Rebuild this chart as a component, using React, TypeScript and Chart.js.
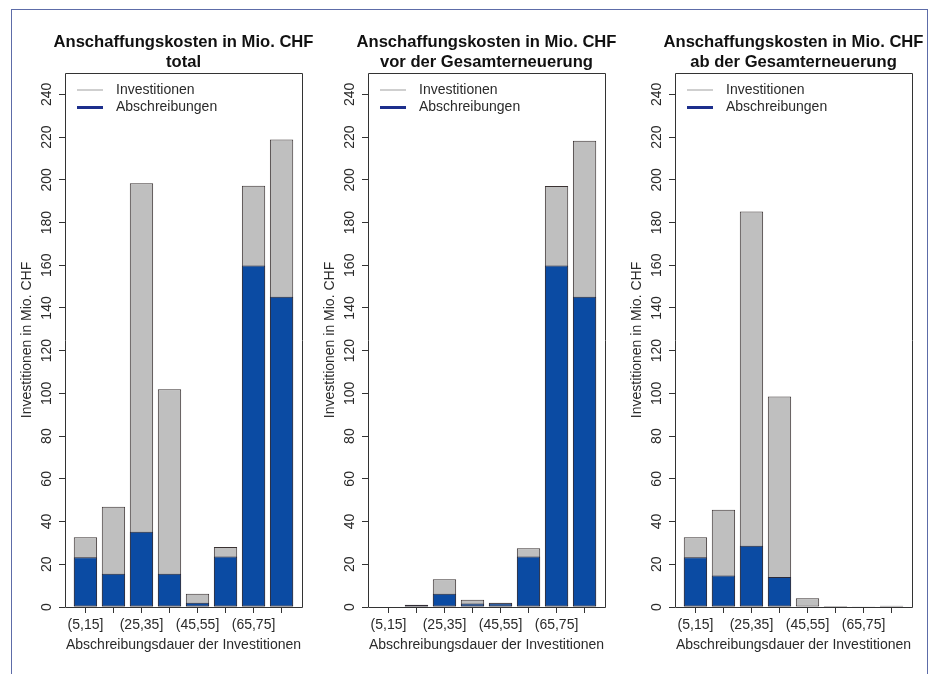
import React, { useEffect, useRef } from 'react';
import { Chart, registerables } from 'chart.js';

Chart.register(...registerables);

// ---------- data ----------
const categories = ['(5,15]', '(15,25]', '(25,35]', '(35,45]', '(45,55]', '(55,65]', '(65,75]', '(75,85]'];
const yTickValues = [0, 20, 40, 60, 80, 100, 120, 140, 160, 180, 200, 220, 240];
const seriesLabels = ['Investitionen', 'Abschreibungen'];

const totalInvestitionen = [32.7, 46.9, 198.4, 102.0, 6.2, 28.1, 197.2, 218.9];
const totalAbschreibungen = [23.3, 15.6, 35.2, 15.6, 2.0, 23.6, 159.9, 145.3];

const vorInvestitionen = [0, 1.1, 13.0, 3.4, 2.0, 27.5, 197.1, 218.3];
const vorAbschreibungen = [0, 0.8, 6.2, 1.6, 1.8, 23.6, 159.9, 145.3];

const abInvestitionen = [32.7, 45.5, 185.2, 98.6, 4.1, 0.5, 0.2, 0.6];
const abAbschreibungen = [23.3, 14.7, 28.7, 14.1, 0.3, 0.3, 0.1, 0.4];

const titleLine1 = 'Anschaffungskosten in Mio. CHF';
const panelSubtitles = ['total', 'vor der Gesamterneuerung', 'ab der Gesamterneuerung'];
const xAxisTitle = 'Abschreibungsdauer der Investitionen';
const yAxisTitle = 'Investitionen in Mio. CHF';

const panels = [
  { sub: panelSubtitles[0], inv: totalInvestitionen, abs: totalAbschreibungen },
  { sub: panelSubtitles[1], inv: vorInvestitionen, abs: vorAbschreibungen },
  { sub: panelSubtitles[2], inv: abInvestitionen, abs: abAbschreibungen },
];

// ---------- style / layout ----------
const FONT = '"Liberation Sans", Arial, Helvetica, sans-serif';
const GREY = '#bfbfbf';
const BLUE = '#0b4ba3';
const LEGEND_BLUE = '#1d2f8c';
const INK = '#2a2a2a';
const BAR_W = 1;
const BAR_SPACE = 0.2;
const Y_MAX = 250;
const Y_AXIS_W = 51;
const RIGHT_PAD = 51;
const TOP_PAD = 61;
const X_AXIS_H = 52;
const CHART_W = 237;
const CANVAS_H = 647;
const CANVAS_TOP = 12;
const chartLefts = [65, 368, 675];

const xPos = (i: number) => BAR_SPACE + BAR_W / 2 + i * (BAR_W + BAR_SPACE);
const xLo = BAR_SPACE;
const xHi = categories.length * (BAR_W + BAR_SPACE);
const xExt = (xHi - xLo) * 0.04;

const framePlugin = {
  id: 'rframe',
  afterDraw(chart: any, _args: any, opts: any) {
    const { ctx, chartArea } = chart;
    const ys = chart.scales.y;
    const l = Math.round(chartArea.left) + 0.5;
    const r = Math.round(chartArea.right) + 0.5;
    const t = Math.round(chartArea.top) + 0.5;
    const b = Math.round(chartArea.bottom) + 0.5;
    ctx.save();
    // box
    ctx.strokeStyle = '#333';
    ctx.lineWidth = 1;
    ctx.beginPath();
    ctx.moveTo(l, t);
    ctx.lineTo(r, t);
    ctx.lineTo(r, b);
    ctx.lineTo(l, b);
    ctx.closePath();
    ctx.stroke();
    // title (two lines, centred over the plot region)
    const cx = (chartArea.left + chartArea.right) / 2;
    ctx.fillStyle = '#111';
    ctx.font = `bold 16.6px ${FONT}`;
    ctx.textAlign = 'center';
    ctx.textBaseline = 'middle';
    (opts.title || []).forEach((line: string, i: number) => {
      ctx.fillText(line, cx, 30 + i * 20.4);
    });
    // rotated y tick labels
    ctx.fillStyle = INK;
    ctx.font = `14px ${FONT}`;
    ys.ticks.forEach((tk: any) => {
      ctx.save();
      ctx.translate(chartArea.left - 18, ys.getPixelForValue(tk.value));
      ctx.rotate(-Math.PI / 2);
      ctx.fillText(String(tk.value), 0, 0);
      ctx.restore();
    });
    // legend (lines)
    const ds = chart.data.datasets;
    const colors = [GREY, LEGEND_BLUE];
    const widths = [1.5, 3];
    ctx.textAlign = 'left';
    ds.forEach((d: any, i: number) => {
      const y = chartArea.top + 17 + i * 17.5;
      ctx.strokeStyle = colors[i];
      ctx.lineWidth = widths[i];
      ctx.beginPath();
      ctx.moveTo(chartArea.left + 12, y);
      ctx.lineTo(chartArea.left + 38, y);
      ctx.stroke();
      ctx.fillStyle = INK;
      ctx.fillText(d.label, chartArea.left + 51, y);
    });
    ctx.restore();
  },
};

function Panel({ idx }: { idx: number }) {
  const ref = useRef<HTMLCanvasElement>(null);
  const p = panels[idx];
  useEffect(() => {
    if (!ref.current) return;
    const chart = new Chart(ref.current, {
      type: 'bar',
      data: {
        datasets: [
          {
            label: seriesLabels[0],
            data: p.inv.map((v, i) => ({ x: xPos(i), y: v })),
            backgroundColor: GREY,
            borderColor: '#3a3232',
            borderWidth: 1,
            borderSkipped: false,
            order: 2,
          },
          {
            label: seriesLabels[1],
            data: p.abs.map((v, i) => ({ x: xPos(i), y: v })),
            backgroundColor: BLUE,
            borderColor: '#2a2a3a',
            borderWidth: 1,
            borderSkipped: false,
            order: 1,
          },
        ],
      },
      options: {
        animation: false,
        responsive: false,
        devicePixelRatio: 1,
        grouped: false,
        categoryPercentage: 1,
        barPercentage: BAR_W / (BAR_W + BAR_SPACE),
        layout: { padding: { left: 0, right: RIGHT_PAD, top: TOP_PAD, bottom: 0 } },
        plugins: {
          legend: { display: false },
          tooltip: { enabled: false },
          title: { display: false },
          rframe: { title: [titleLine1, p.sub] },
        },
        scales: {
          x: {
            type: 'linear',
            min: xLo - xExt,
            max: xHi + xExt,
            offset: false,
            grid: {
              display: true,
              drawOnChartArea: false,
              drawTicks: true,
              tickLength: 6,
              color: '#333',
              offset: false,
            },
            border: { display: false },
            afterBuildTicks: (s: any) => {
              s.ticks = categories.map((_, i) => ({ value: xPos(i) }));
            },
            afterFit: (s: any) => {
              s.height = X_AXIS_H;
            },
            ticks: {
              autoSkip: false,
              maxRotation: 0,
              minRotation: 0,
              padding: 4,
              color: INK,
              font: { family: FONT, size: 14 },
              callback: (_v: any, i: number) => (i % 2 === 0 ? categories[i] : ''),
            },
            title: {
              display: true,
              text: xAxisTitle,
              color: INK,
              font: { family: FONT, size: 14 },
              padding: { top: 0, bottom: 5 },
            },
          },
          y: {
            type: 'linear',
            min: 0,
            max: Y_MAX,
            grid: {
              display: true,
              drawOnChartArea: false,
              drawTicks: true,
              tickLength: 6,
              color: '#333',
            },
            border: { display: false },
            afterBuildTicks: (s: any) => {
              s.ticks = yTickValues.map((v) => ({ value: v }));
            },
            afterFit: (s: any) => {
              s.width = Y_AXIS_W;
            },
            ticks: { display: false },
            title: {
              display: true,
              text: yAxisTitle,
              color: INK,
              font: { family: FONT, size: 14 },
              padding: { top: 5, bottom: 0 },
            },
          },
        },
      } as any,
      plugins: [framePlugin],
    });
    return () => chart.destroy();
  }, [idx]);
  const w = Y_AXIS_W + CHART_W + RIGHT_PAD;
  return (
    <canvas
      ref={ref}
      width={w}
      height={CANVAS_H}
      style={{
        position: 'absolute',
        left: chartLefts[idx] - Y_AXIS_W,
        top: CANVAS_TOP,
        width: w,
        height: CANVAS_H,
      }}
    />
  );
}

export default function App() {
  return (
    <div
      style={{
        position: 'absolute',
        left: 0,
        top: 0,
        width: 933,
        height: 674,
        overflow: 'hidden',
        background: '#fff',
      }}
    >
      <div
        style={{
          position: 'absolute',
          left: 11,
          top: 9,
          width: 915,
          height: 700,
          border: '1.5px solid #5d6ca8',
        }}
      />
      {panels.map((_, i) => (
        <Panel key={i} idx={i} />
      ))}
    </div>
  );
}
